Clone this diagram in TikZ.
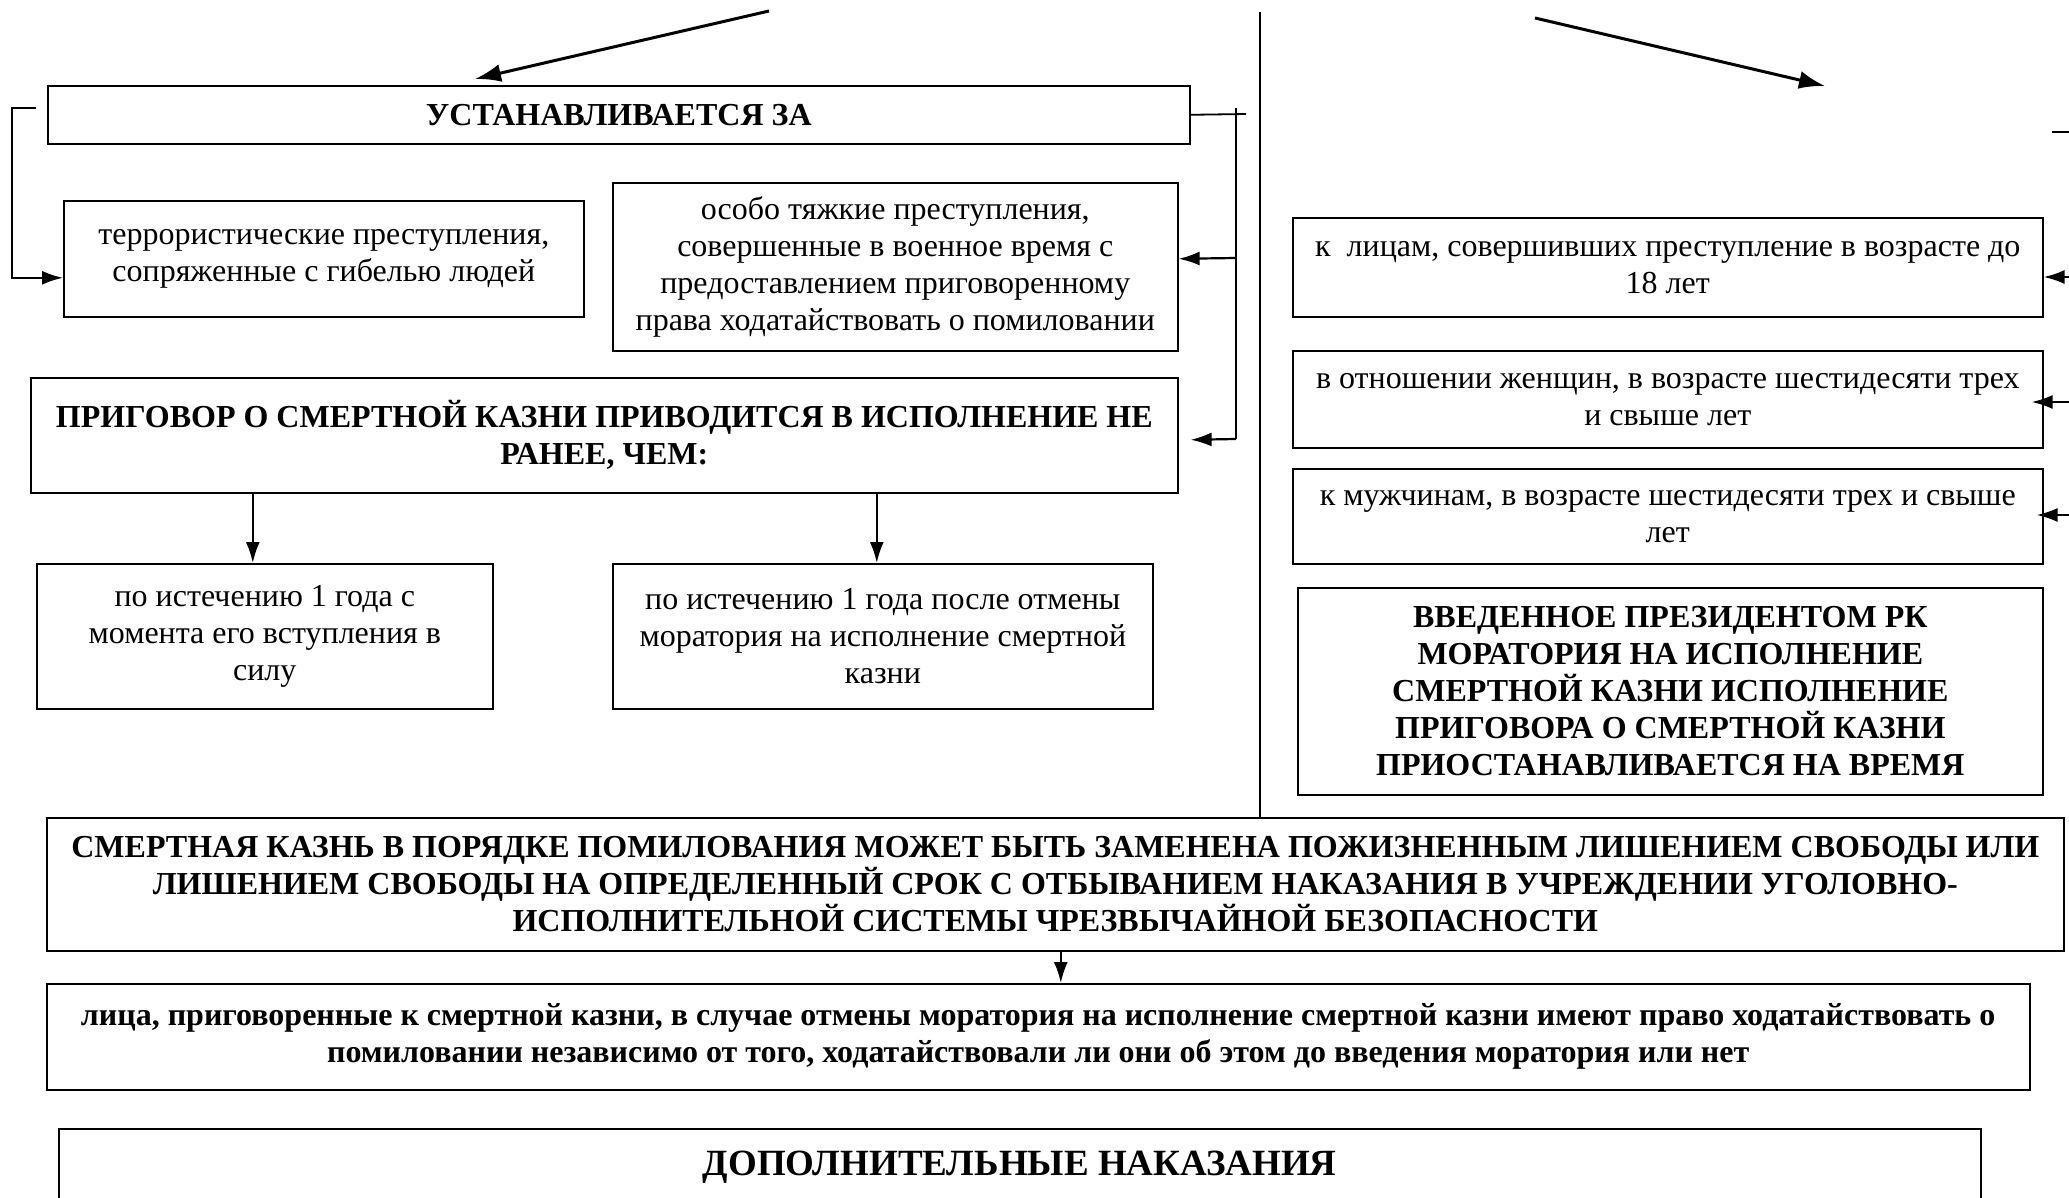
\documentclass[tikz,border=0pt]{standalone}
\usepackage{fontspec}
\setmainfont{Liberation Serif}
\usetikzlibrary{arrows.meta}

\begin{document}
\begin{tikzpicture}[x=1pt, y=-1pt,
	blk/.style={draw, line width=1.6pt, inner sep=0pt, align=center, anchor=north west,
		font=\fontsize{32}{37}\selectfont},
	bblk/.style={blk, font=\fontsize{32}{37}\selectfont\bfseries},
	arr/.style={line width=2.2pt, -{Latex[length=21pt, width=14pt]}},
	lnk/.style={line width=1.8pt}]

	\useasboundingbox (0,0) rectangle (2069,1198);
	\clip (0,0) rectangle (2069,1198);

	\node [bblk, minimum width=1142pt, minimum height=58pt] (ustan) at (47,85) {УСТАНАВЛИВАЕТСЯ ЗА};
	\node [blk, minimum width=520pt, minimum height=116pt] (terror) at (63,200)
		{террористические преступления,\\сопряженные с гибелью людей};
	\node [blk, minimum width=565pt, minimum height=168pt] (osobo) at (612,182)
		{особо тяжкие преступления,\\совершенные в военное время с\\предоставлением приговоренному\\права ходатайствовать о помиловании};
	\node [bblk, minimum width=1147pt, minimum height=115pt] (prigovor) at (30,377)
		{ПРИГОВОР О СМЕРТНОЙ КАЗНИ ПРИВОДИТСЯ В ИСПОЛНЕНИЕ НЕ\\РАНЕЕ, ЧЕМ:};
	\node [blk, minimum width=456pt, minimum height=145pt] (srok1) at (36,563)
		{по истечению 1 года с\\момента его вступления в\\силу};
	\node [blk, minimum width=540pt, minimum height=145pt] (srok2) at (612,563)
		{по истечению 1 года после отмены\\моратория на исполнение смертной\\казни};

	\node [blk, minimum width=750pt, minimum height=99pt] (nepr1) at (1292,217)
		{к~~лицам, совершивших преступление в возрасте до\\18 лет};
	\node [blk, minimum width=750pt, minimum height=97pt] (nepr2) at (1292,350)
		{в отношении женщин, в возрасте шестидесяти трех\\и свыше лет};
	\node [blk, minimum width=750pt, minimum height=95pt] (nepr3) at (1292,468)
		{к мужчинам, в возрасте шестидесяти трех и свыше\\лет};
	\node [bblk, minimum width=745pt, minimum height=207pt] (morat) at (1297,587)
		{ВВЕДЕННОЕ ПРЕЗИДЕНТОМ РК\\МОРАТОРИЯ НА ИСПОЛНЕНИЕ\\СМЕРТНОЙ КАЗНИ ИСПОЛНЕНИЕ\\ПРИГОВОРА О СМЕРТНОЙ КАЗНИ\\ПРИОСТАНАВЛИВАЕТСЯ НА ВРЕМЯ};

	\node [bblk, minimum width=2017pt, minimum height=133pt] (zamena) at (46,817)
		{СМЕРТНАЯ КАЗНЬ В ПОРЯДКЕ ПОМИЛОВАНИЯ МОЖЕТ БЫТЬ ЗАМЕНЕНА ПОЖИЗНЕННЫМ ЛИШЕНИЕМ СВОБОДЫ ИЛИ\\ЛИШЕНИЕМ СВОБОДЫ НА ОПРЕДЕЛЕННЫЙ СРОК С ОТБЫВАНИЕМ НАКАЗАНИЯ В УЧРЕЖДЕНИИ УГОЛОВНО-\\ИСПОЛНИТЕЛЬНОЙ СИСТЕМЫ ЧРЕЗВЫЧАЙНОЙ БЕЗОПАСНОСТИ};
	\node [bblk, minimum width=1983pt, minimum height=106pt] (lica) at (46,983)
		{лица, приговоренные к смертной казни, в случае отмены моратория на исполнение смертной казни имеют право ходатайствовать о\\помиловании независимо от того, ходатайствовали ли они об этом до введения моратория или нет};
	\node [bblk, minimum width=1922pt, minimum height=76pt, font=\fontsize{37}{42}\selectfont\bfseries] (dop) at (58,1128)
		{ДОПОЛНИТЕЛЬНЫЕ НАКАЗАНИЯ};

	\coordinate (strelka1) at (769,11);
	\coordinate (konec1) at (475,79);
	\coordinate (strelka2) at (1535,18);
	\coordinate (konec2) at (1825,86);
	\draw [arr, line width=3pt, -{Latex[length=26pt, width=18pt]}] (strelka1) -- (konec1);
	\draw [arr, line width=3pt, -{Latex[length=26pt, width=18pt]}] (strelka2) -- (konec2);

	\coordinate (lev) at (36,108);
	\draw [arr] (lev) -- (12,108) |- ([yshift=-19pt]terror.west);

	\coordinate (pverh) at (1236,108);
	\coordinate (pniz) at (1236,439);
	\draw [lnk] (ustan.east) -- (1246,114);
	\draw [lnk] (pverh) -- (pniz);
	\draw [arr] (1236,258) -- ([yshift=8pt]osobo.east);
	\draw [arr] (pniz) -- ([xshift=12pt, yshift=-4.5pt]prigovor.east);

	\draw [arr] ([xshift=-12pt]srok1.north |- prigovor.south) -- ([xshift=-12pt]srok1.north);
	\draw [arr] ([xshift=-6pt]srok2.north |- prigovor.south) -- ([xshift=-6pt]srok2.north);

	\coordinate (razdel) at (1260,12);
	\draw [lnk] (razdel) -- (razdel |- zamena.north);
	\draw [lnk] (2052,132) -- (2075,132);

	\coordinate (vh1) at (2075,277);
	\coordinate (vh2) at (2075,402);
	\coordinate (vh3) at (2075,515);
	\draw [arr] (vh1) -- (vh1 -| nepr1.east);
	\draw [arr] (vh2) -- ([xshift=-12pt]vh2 -| nepr2.east);
	\draw [arr] (vh3) -- ([xshift=-7pt]vh3 -| nepr3.east);

	\draw [arr] ([xshift=5.5pt]zamena.south) -- ([xshift=5.5pt]zamena.south |- lica.north);
\end{tikzpicture}
\end{document}
